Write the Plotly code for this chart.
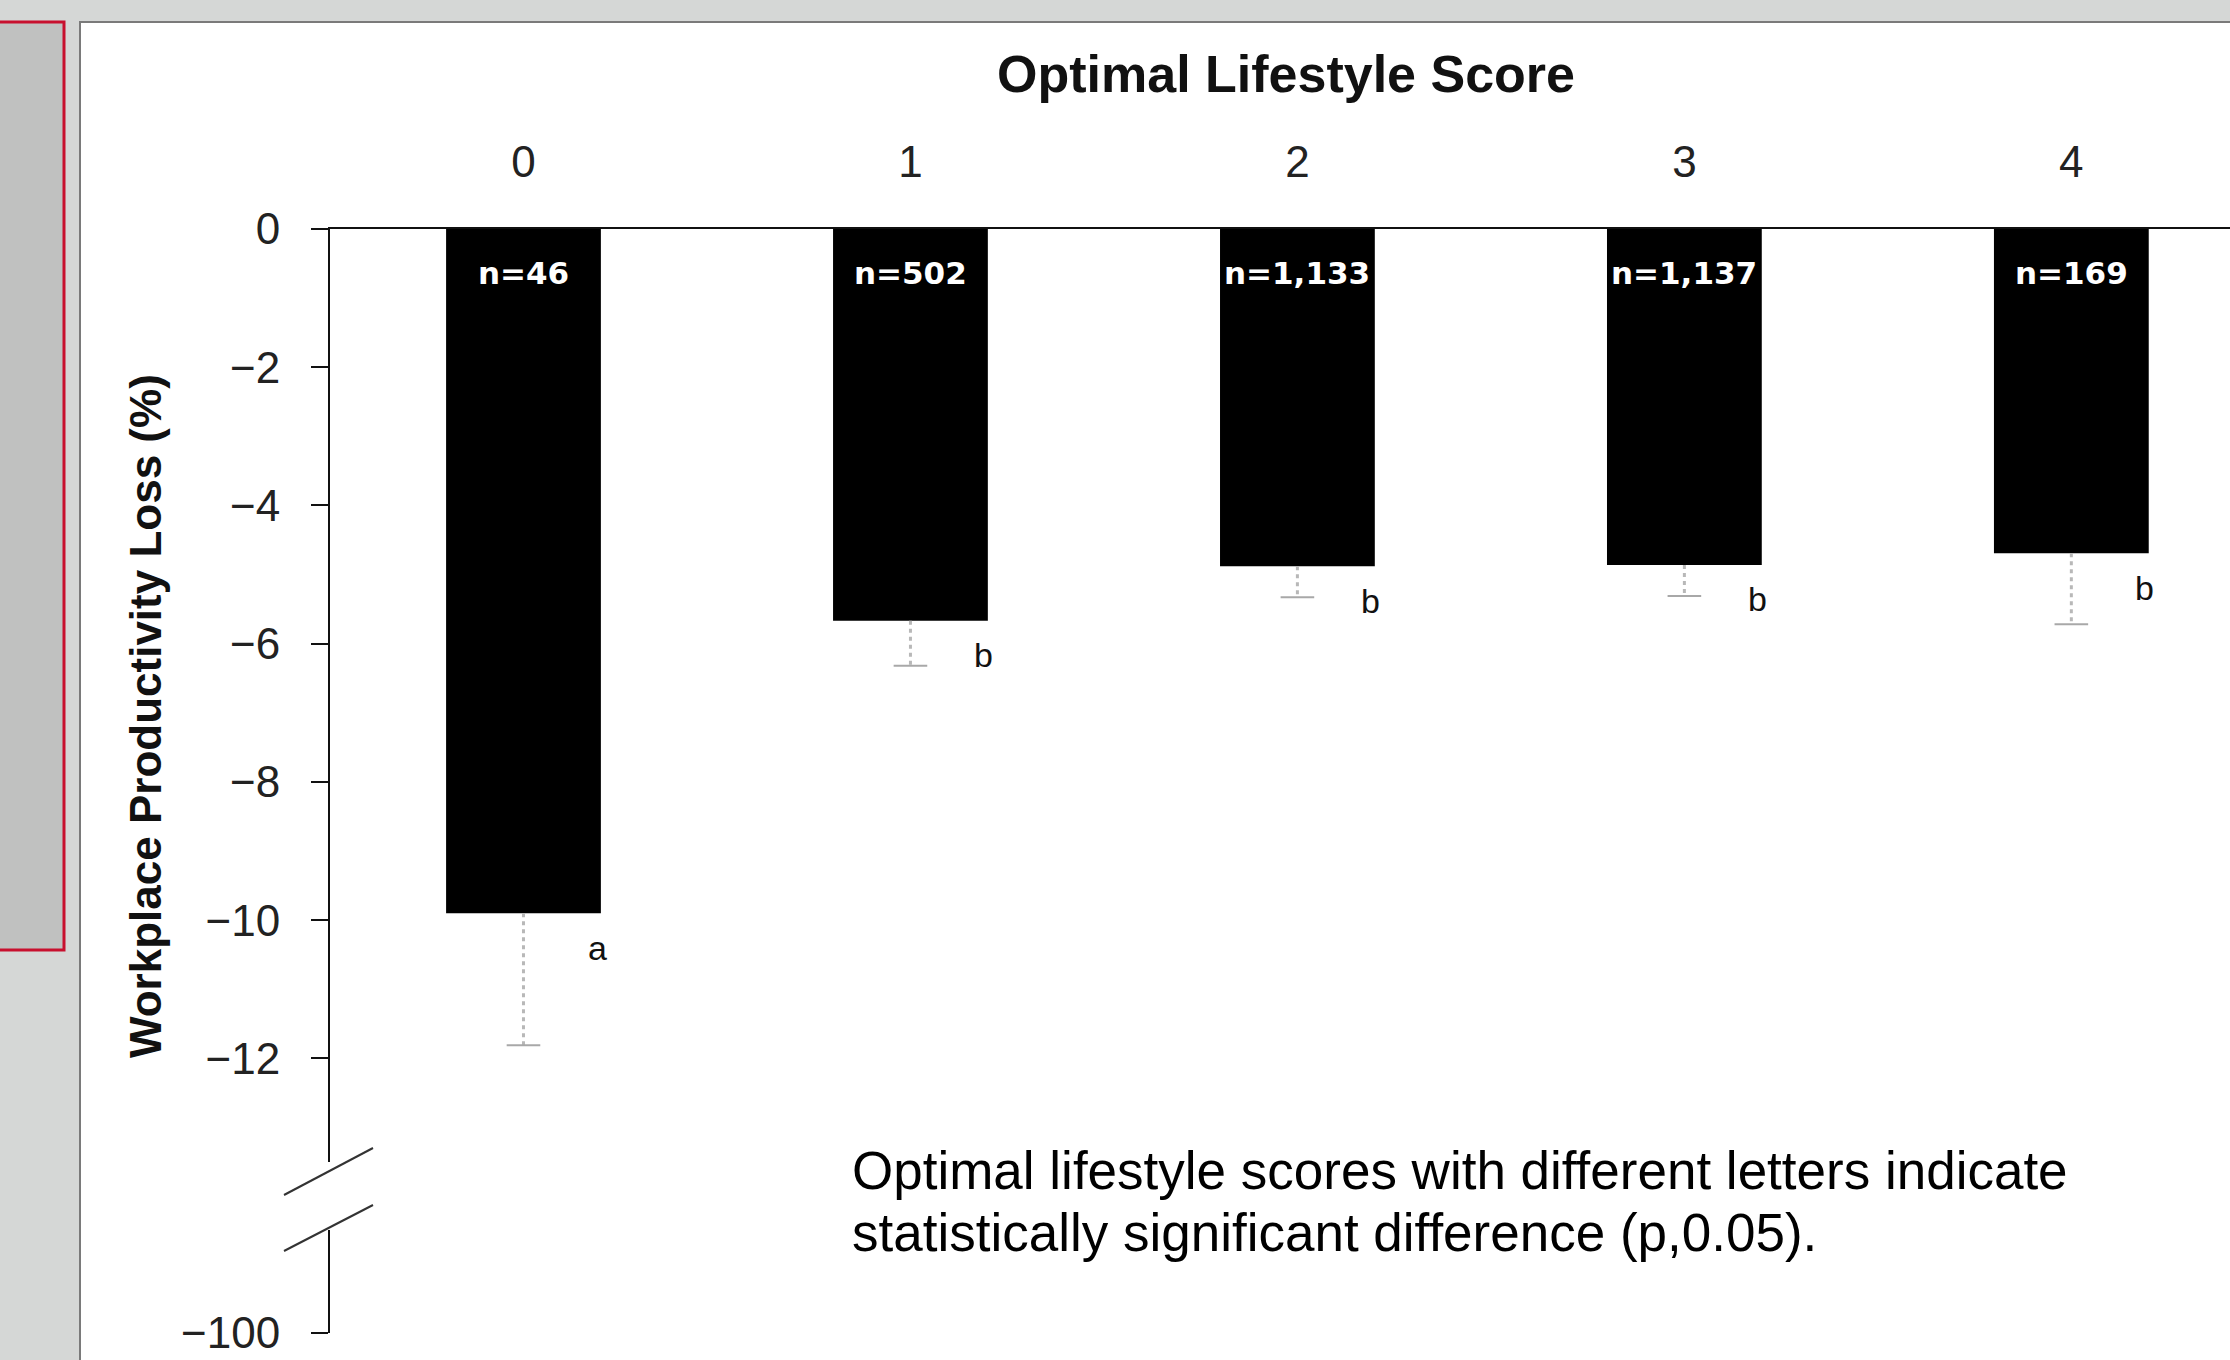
import plotly.graph_objects as go

# ---- data ----
scores = [0, 1, 2, 3, 4]
score_labels = ["0", "1", "2", "3", "4"]
loss_values = [-9.9, -5.67, -4.88, -4.86, -4.69]
loss_err = [1.91, 0.65, 0.45, 0.45, 1.03]
n_labels = ["n=46", "n=502", "n=1,133", "n=1,137", "n=169"]
sig_letters = ["a", "b", "b", "b", "b"]
ytick_vals = [0, -2, -4, -6, -8, -10, -12]
ytick_break_vals = [-100]

W, H = 2230, 1360
L, R, T, B = 330, 0, 229, 27
PW, PH = W - L - R, H - T - B


def px(x):
    return (x - L) / PW


def py(y):
    return (H - B - y) / PH


fig = go.Figure()

fig.add_trace(go.Bar(
    x=scores, y=loss_values, width=0.4,
    marker=dict(color="#000000", line=dict(width=0)),
    xaxis="x", yaxis="y", showlegend=False, hoverinfo="skip",
))

# error bars (dotted, downward)
ex, ey = [], []
for s, v, e in zip(scores, loss_values, loss_err):
    ex += [s, s, None]
    ey += [v, v - e, None]
fig.add_trace(go.Scatter(
    x=ex, y=ey, mode="lines",
    line=dict(color="#b8b8b8", width=3, dash="4px,4px"),
    xaxis="x", yaxis="y", showlegend=False, hoverinfo="skip",
))
fig.add_trace(go.Scatter(
    x=scores, y=[v - e for v, e in zip(loss_values, loss_err)], mode="markers",
    marker=dict(symbol="line-ew", size=24, line=dict(color="#a8a8a8", width=2)),
    xaxis="x", yaxis="y", showlegend=False, hoverinfo="skip",
))
# invisible trace to create the lower (broken) axis segment
fig.add_trace(go.Scatter(
    x=[scores[0]], y=ytick_break_vals, mode="markers", marker=dict(opacity=0),
    xaxis="x", yaxis="y2", showlegend=False, hoverinfo="skip",
))

ann = []
for s, v, n, lt in zip(scores, loss_values, n_labels, sig_letters):
    ann.append(dict(x=s, y=0, xref="x", yref="y", text=n, showarrow=False,
                    xanchor="center", yanchor="middle", yshift=-44,
                    font=dict(family="DejaVu Sans", size=31, color="white", weight="bold")))
    ann.append(dict(x=s + 0.19, y=v - 0.5, xref="x", yref="y", text=lt, showarrow=False,
                    xanchor="center", yanchor="middle",
                    font=dict(family="Liberation Sans, Arial", size=34, color="#111")))

ann.append(dict(x=px(1286), y=py(74), xref="paper", yref="paper",
                xanchor="center", yanchor="middle",
                text="<b>Optimal Lifestyle Score</b>", showarrow=False,
                font=dict(family="Liberation Sans, Arial", size=52, color="#111")))
ann.append(dict(x=px(145), y=py(716), xref="paper", yref="paper", textangle=-90,
                xanchor="center", yanchor="middle",
                text="<b>Workplace Productivity Loss (%)</b>", showarrow=False,
                font=dict(family="Liberation Sans, Arial", size=44, color="#111")))
foot_lines = ["Optimal lifestyle scores with different letters indicate",
              "statistically significant difference (p,0.05)."]
for line, yy in zip(foot_lines, [1170, 1232]):
    ann.append(dict(x=px(850), y=py(yy), xref="paper", yref="paper",
                    xanchor="left", yanchor="middle", align="left", showarrow=False,
                    text=line,
                    font=dict(family="Liberation Sans, Arial", size=53, color="#000")))

shapes = [
    # white panel
    dict(type="rect", xref="paper", yref="paper", x0=px(80), x1=px(W + 20),
         y0=py(H + 20), y1=py(22), fillcolor="white",
         line=dict(color="#7a7a7a", width=2), layer="below"),
    # red-bordered grey box
    dict(type="rect", xref="paper", yref="paper", x0=px(-20), x1=px(64),
         y0=py(950), y1=py(22), fillcolor="#c0c1c0",
         line=dict(color="#c8102e", width=3), layer="below"),
    # axis break marks
    dict(type="line", xref="paper", yref="paper", x0=px(284), y0=py(1195),
         x1=px(373), y1=py(1148), line=dict(color="#333", width=2)),
    dict(type="line", xref="paper", yref="paper", x0=px(284), y0=py(1251),
         x1=px(373), y1=py(1205), line=dict(color="#333", width=2)),
]

upper_bottom = py(1162)
lower_top = py(1230)
fig.update_layout(
    width=W, height=H,
    margin=dict(l=L, r=R, t=T, b=B, pad=0),
    paper_bgcolor="#d5d7d6", plot_bgcolor="rgba(0,0,0,0)",
    showlegend=False,
    xaxis=dict(
        range=[-0.5, 4.41], side="top", anchor="y",
        tickvals=scores, ticktext=score_labels,
        showline=True, linecolor="#111", linewidth=2,
        ticks="", showgrid=False, zeroline=False,
        ticklabelstandoff=32,
        tickfont=dict(family="Liberation Sans, Arial", size=44, color="#222"),
    ),
    yaxis=dict(
        domain=[upper_bottom, 1], range=[-13.5, 0], anchor="x",
        tickvals=ytick_vals,
        showline=True, linecolor="#111", linewidth=2,
        ticks="outside", ticklen=17, tickwidth=2, tickcolor="#111",
        showgrid=False, zeroline=False, ticklabelstandoff=22,
        tickfont=dict(family="Liberation Sans, Arial", size=44, color="#222"),
    ),
    yaxis2=dict(
        domain=[0, lower_top], range=[-100, -98.5], anchor="x",
        tickvals=ytick_break_vals,
        showline=True, linecolor="#111", linewidth=2,
        ticks="outside", ticklen=17, tickwidth=2, tickcolor="#111",
        showgrid=False, zeroline=False, ticklabelstandoff=22,
        tickfont=dict(family="Liberation Sans, Arial", size=44, color="#222"),
    ),
    annotations=ann,
    shapes=shapes,
)

fig.write_html(
    "out.html",
    config={"displayModeBar": False},
    post_script="document.body.style.margin='0';document.body.style.padding='0';"
                "document.body.style.overflow='hidden';",
)
